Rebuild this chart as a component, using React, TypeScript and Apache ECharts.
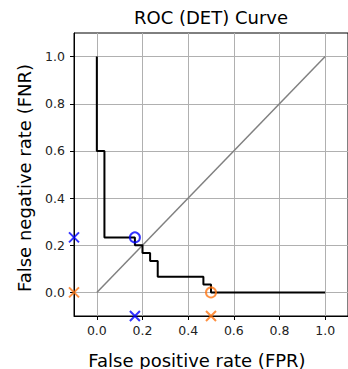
import React, { useEffect, useRef } from "react";
import * as echarts from "echarts";

const fpr = [0, 0, 0.0333, 0.0333, 0.1667, 0.1667, 0.2, 0.2, 0.2333, 0.2333, 0.2667, 0.2667, 0.4667, 0.4667, 0.5, 0.5, 1.0];
const fnr = [1.0, 0.6, 0.6, 0.2333, 0.2333, 0.2, 0.2, 0.1667, 0.1667, 0.1333, 0.1333, 0.0667, 0.0667, 0.0333, 0.0333, 0, 0];
const diagonal = [[0, 0], [1, 1]];
const tickValues = [0, 0.2, 0.4, 0.6, 0.8, 1.0];
const blueOp = [0.1667, 0.2333];
const orangeOp = [0.5, 0];
const axisEdge = -0.1;

const X_SYMBOL = "path://M0,0L10,10M10,0L0,10";
const BLUE = "#0000ff";
const ORANGE = "#ff7410";

export default function App() {
  const ref = useRef<HTMLDivElement>(null);
  useEffect(() => {
    const chart = echarts.init(ref.current!, null, { renderer: "svg" });
    const font = "DejaVu Sans";
    const axisCommon = {
      type: "value" as const,
      min: -0.1,
      max: 1.1,
      axisLine: { show: true, onZero: false, lineStyle: { color: "#000", width: 1 } },
      axisTick: { show: true, inside: false, length: 4, customValues: tickValues, lineStyle: { color: "#000", width: 1 } },
      axisLabel: {
        customValues: tickValues,
        color: "#222",
        fontFamily: font,
        fontSize: 12.5,
        formatter: (v: number) => v.toFixed(1),
      },
      splitLine: { show: true, lineStyle: { color: "#b0b0b0", width: 1 } },
    };
    const xMarker = (color: string, pts: number[][]) => ({
      type: "scatter",
      data: pts,
      symbol: X_SYMBOL,
      symbolSize: 10,
      clip: false,
      z: 5,
      itemStyle: { color: "none", borderColor: color, borderWidth: 2 },
    });
    chart.setOption({
      animation: false,
      grid: { left: 74, top: 33, width: 275, height: 283, containLabel: false, show: true, borderColor: "#000", borderWidth: 1, backgroundColor: "transparent" },
      xAxis: { ...axisCommon, axisLabel: { ...axisCommon.axisLabel, margin: 8 } },
      yAxis: { ...axisCommon, axisLabel: { ...axisCommon.axisLabel, margin: 9 } },
      graphic: [
        {
          type: "text",
          x: 211,
          y: 17,
          style: { text: "ROC (DET) Curve", font: `18px ${font}`, fill: "#000", align: "center", verticalAlign: "middle" },
        },
        {
          type: "text",
          x: 197,
          y: 360,
          style: { text: "False positive rate (FPR)", font: `18px ${font}`, fill: "#000", align: "center", verticalAlign: "middle" },
        },
        {
          type: "text",
          x: 24,
          y: 178,
          rotation: Math.PI / 2,
          style: { text: "False negative rate (FNR)", font: `18px ${font}`, fill: "#000", align: "center", verticalAlign: "middle" },
        },
      ],
      series: [
        {
          type: "line",
          data: diagonal,
          symbol: "none",
          lineStyle: { color: "#808080", width: 1.5 },
          z: 2,
        },
        {
          type: "line",
          data: fpr.map((x, i) => [x, fnr[i]]),
          symbol: "none",
          lineStyle: { color: "#000", width: 2 },
          z: 3,
        },
        {
          type: "scatter",
          data: [blueOp],
          symbol: "circle",
          symbolSize: 10,
          clip: false,
          z: 5,
          itemStyle: { color: "none", borderColor: BLUE, borderWidth: 2 },
        },
        {
          type: "scatter",
          data: [orangeOp],
          symbol: "circle",
          symbolSize: 10,
          clip: false,
          z: 5,
          itemStyle: { color: "none", borderColor: ORANGE, borderWidth: 2 },
        },
        xMarker(BLUE, [[axisEdge, blueOp[1]], [blueOp[0], axisEdge]]),
        xMarker(ORANGE, [[axisEdge, orangeOp[1]], [orangeOp[0], axisEdge]]),
      ],
    });
    return () => chart.dispose();
  }, []);
  return (
    <div
      ref={ref}
      style={{ position: "fixed", left: 0, top: 0, width: 348, height: 369, background: "#fff" }}
    />
  );
}
